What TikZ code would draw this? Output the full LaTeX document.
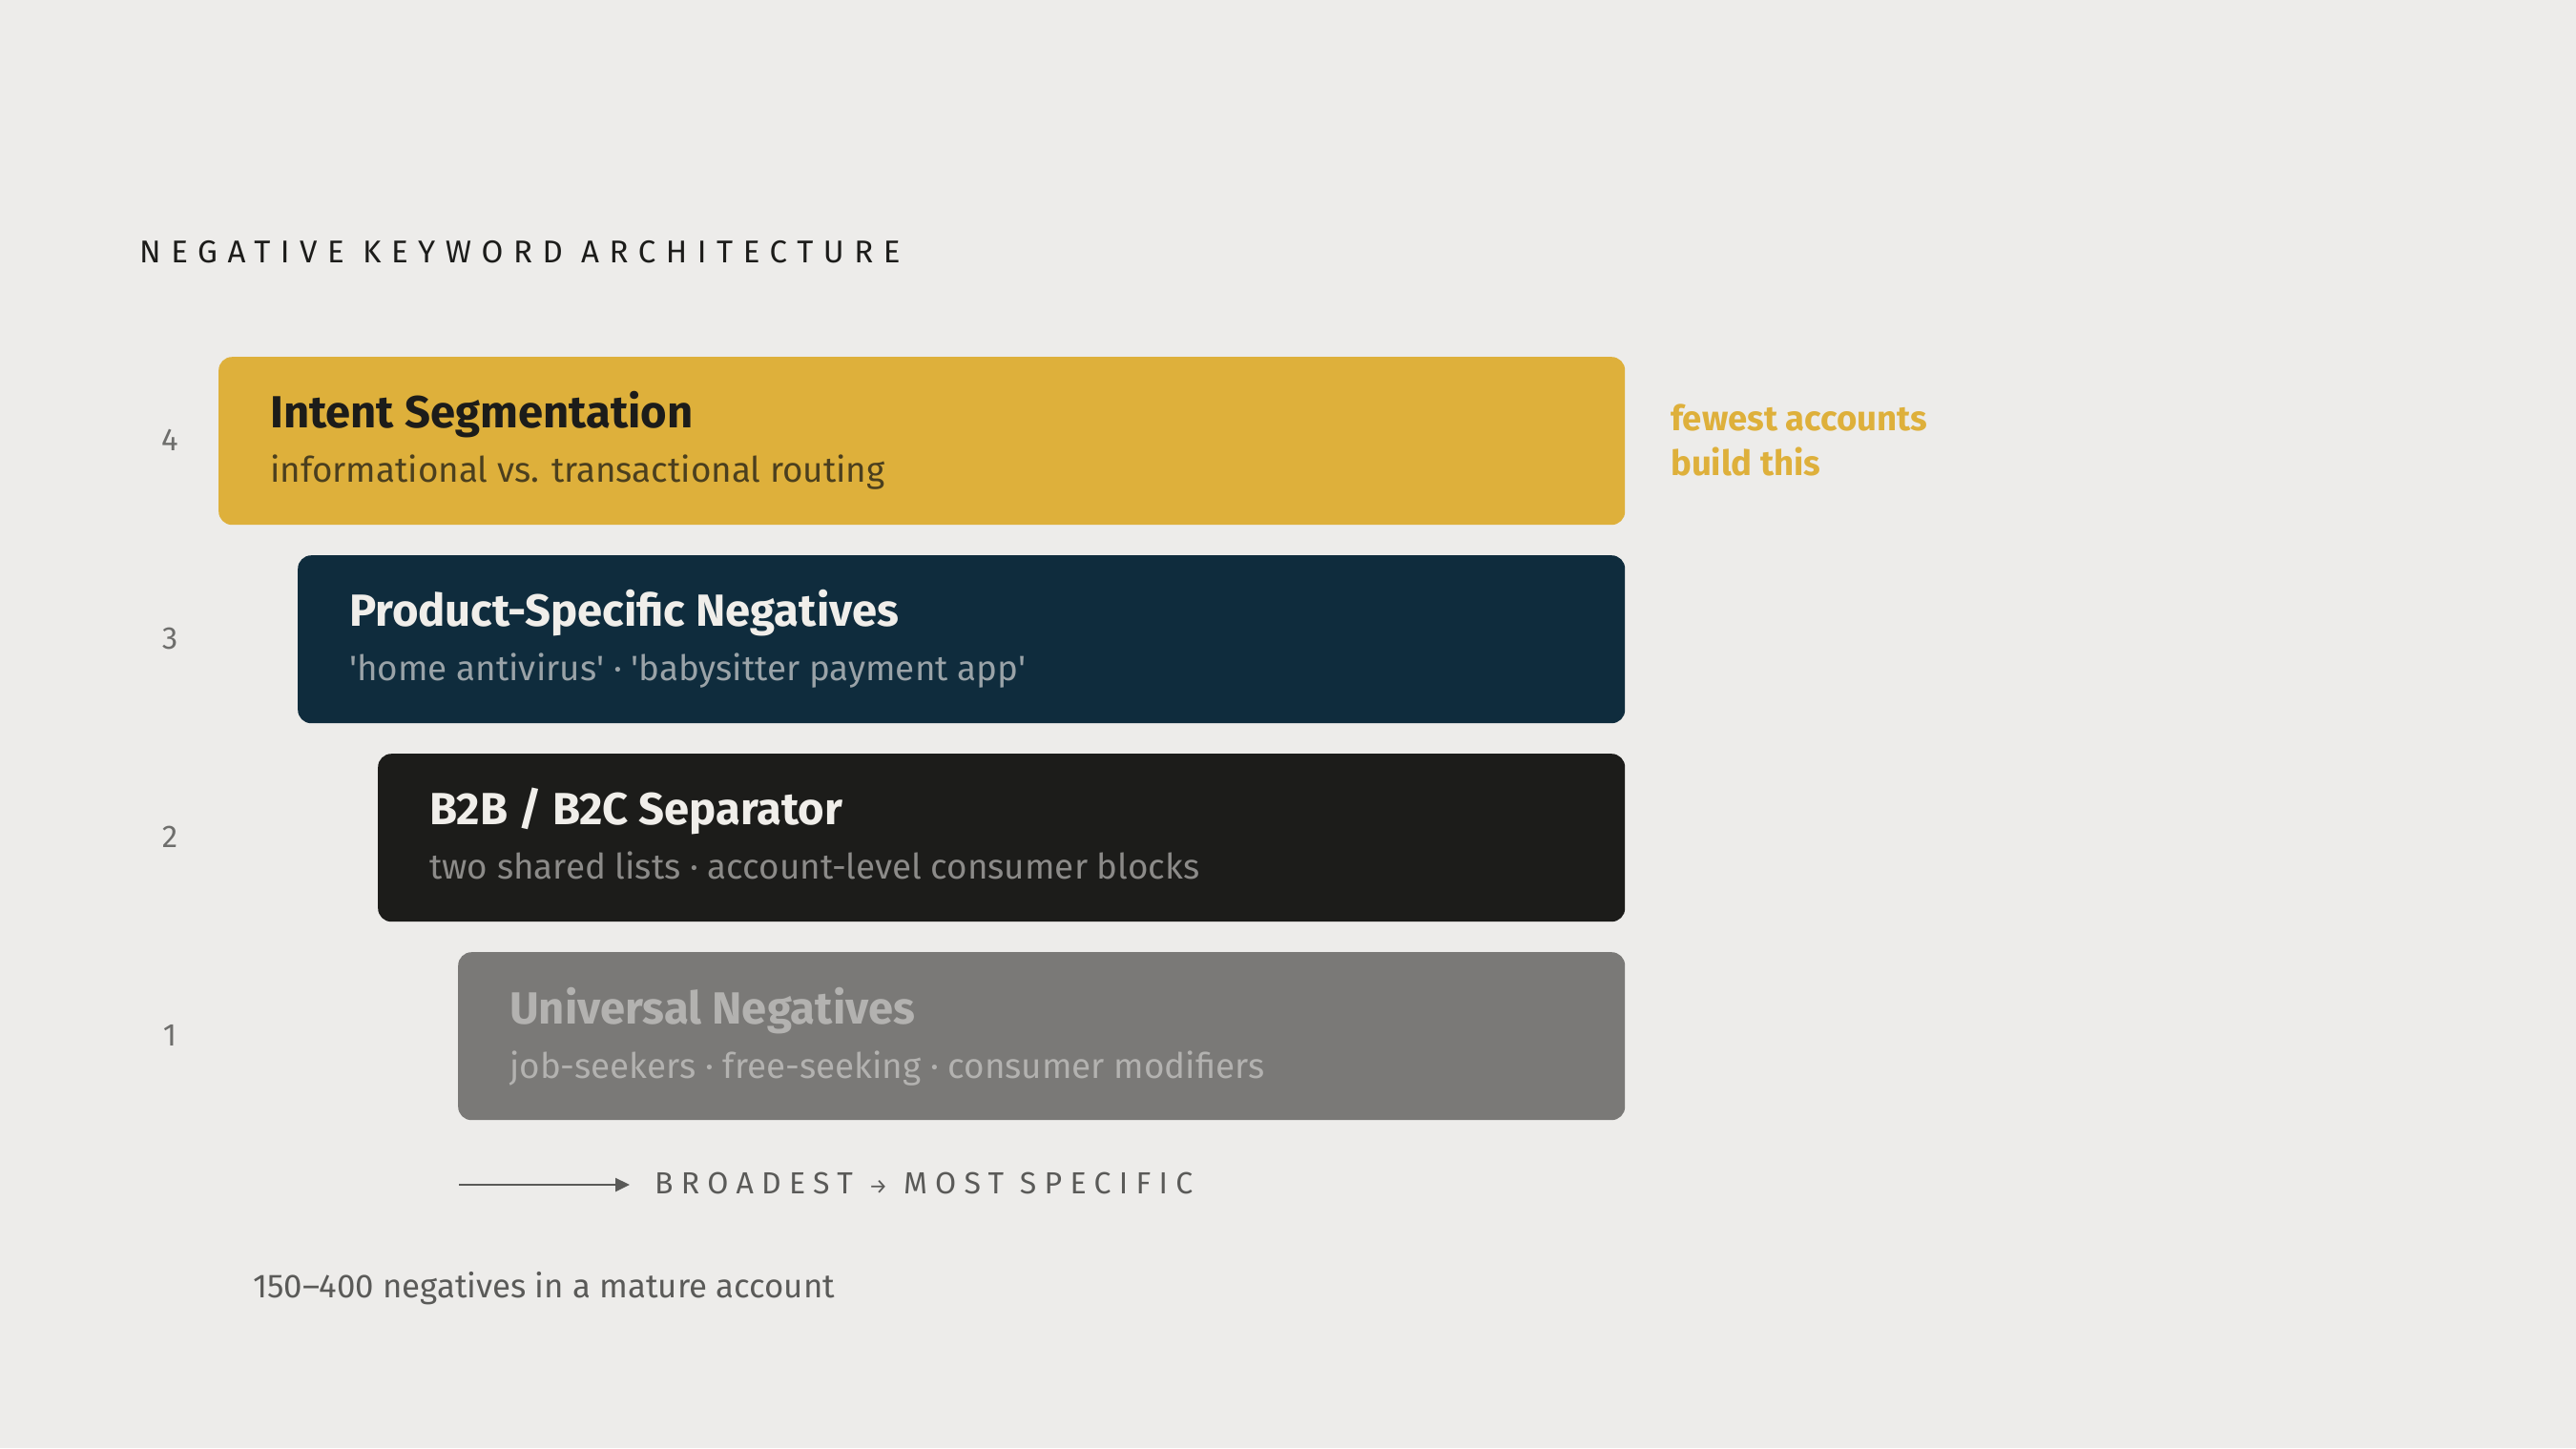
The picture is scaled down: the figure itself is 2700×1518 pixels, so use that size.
\documentclass[tikz,border=0pt]{standalone}
\usepackage{fontspec}
\setmainfont{Fira Sans}
\usetikzlibrary{arrows.meta}
\definecolor{bg}{HTML}{EDECEA}
\definecolor{gold}{HTML}{DEB03B}
\definecolor{navy}{HTML}{0F2C3D}
\definecolor{ink}{HTML}{1C1C1A}
\definecolor{slate}{HTML}{7A7977}
\definecolor{goldsub}{HTML}{4B3F1E}
\definecolor{lighttxt}{HTML}{F0EEEA}
\definecolor{navysub}{HTML}{9AA3A8}
\definecolor{inksub}{HTML}{8C8B89}
\definecolor{slatetxt}{HTML}{B3B2B0}
\definecolor{numc}{HTML}{6E6E6C}
\definecolor{midgray}{HTML}{5A5A58}
\begin{document}
\begin{tikzpicture}[x=1pt,y=-1pt,
  layer/.style={rounded corners=14pt, anchor=north west, inner sep=0pt, minimum height=176pt},
  ttl/.style={anchor=base west, inner sep=0pt, font=\fontsize{47.2}{56}\selectfont\bfseries},
  sub/.style={anchor=base west, inner sep=0pt, font=\fontsize{36.8}{44}\selectfont},
  num/.style={anchor=base, inner sep=0pt, font=\fontsize{33}{39}\selectfont, text=numc},
  plain/.style={anchor=base west, inner sep=0pt}]
\fill[bg] (0,0) rectangle (2700,1518);
\useasboundingbox (0,0) rectangle (2700,1518);

\node[plain, text=ink, font=\fontsize{33}{40}\selectfont\addfontfeature{LetterSpace=32}] (head) at (146,275) {NEGATIVE KEYWORD ARCHITECTURE};

% layer 4
\node[layer, fill=gold, minimum width=1474pt] (b4) at (229,374) {};
\node[ttl, text=ink] (t4) at (283,448) {Intent Segmentation};
\node[sub, text=goldsub] (s4) at (283,505) {informational vs. transactional routing};
\node[num] (n4) at (178,472) {4};
% layer 3
\node[layer, fill=navy, minimum width=1391pt] (b3) at (312,582) {};
\node[ttl, text=lighttxt] (t3) at (366,656) {Product-Specific Negatives};
\node[sub, text=navysub] (s3) at (366,713) {\textquotesingle home antivirus\textquotesingle{} · \textquotesingle babysitter payment app\textquotesingle};
\node[num] (n3) at (178,680) {3};
% layer 2
\node[layer, fill=ink, minimum width=1307pt] (b2) at (396,790) {};
\node[ttl, text=lighttxt] (t2) at (450,864) {B2B / B2C Separator};
\node[sub, text=inksub] (s2) at (450,921) {two shared lists · account-level consumer blocks};
\node[num] (n2) at (178,888) {2};
% layer 1
\node[layer, fill=slate, minimum width=1223pt] (b1) at (480,998) {};
\node[ttl, text=slatetxt] (t1) at (534,1073) {Universal Negatives};
\node[sub, text=slatetxt] (s1) at (534,1130) {job-seekers · free-seeking · consumer modifiers};
\node[num] (n1) at (178,1096) {1};

% side note
\node[plain, text=gold, font=\fontsize{36.5}{43}\selectfont\bfseries] (f1) at (1751,451) {fewest accounts};
\node[plain, text=gold, font=\fontsize{36.5}{43}\selectfont\bfseries] (f2) at (1751,498) {build this};

% arrow
\coordinate (a0) at (481,1242);
\coordinate (a1) at (660,1242);
\draw[midgray, line width=2.5pt, -{Triangle[length=15pt,width=14pt]}] (a0) -- (a1);
\node[plain, text=midgray, font=\fontsize{32}{38}\selectfont\addfontfeature{LetterSpace=26}] (dir) at (686,1251) {BROADEST {\fontsize{22}{26}\selectfont →} MOST SPECIFIC};

% footer
\node[plain, text=midgray, font=\fontsize{34.8}{41}\selectfont] (foot) at (265,1360) {150–400 negatives in a mature account};
\end{tikzpicture}
\end{document}
